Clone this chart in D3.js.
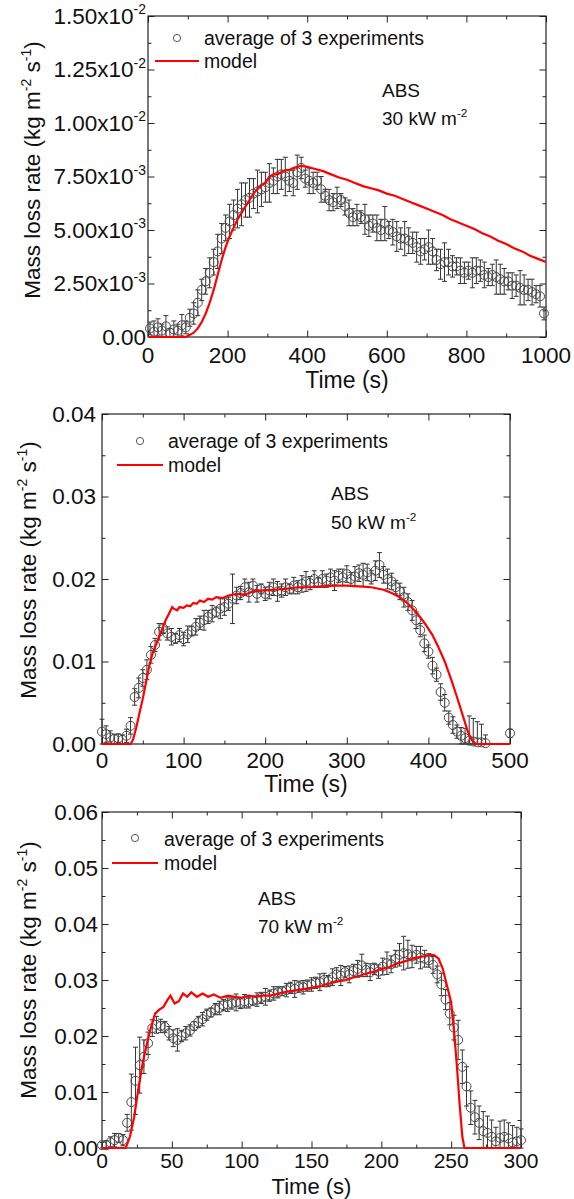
<!DOCTYPE html>
<html>
<head>
<meta charset="utf-8">
<script src="https://cdn.jsdelivr.net/npm/d3@7"></script>
<style>
  body { margin: 0; background: #fff; }
  svg { display: block; font-family: "Liberation Sans", Arial, sans-serif; }
</style>
</head>
<body>
<div id="chart"></div>
<script>
// ---------- ABS, 30 kW m-2 (rates in 1e-3 kg m-2 s-1) ----------
const expTime30 = [5,15,25,35,45,55,65,75,85,95,105,115,125,135,145,155,165,175,185,195,
  205,215,225,235,245,255,265,275,285,295,305,315,325,335,345,355,365,375,385,395,
  405,415,425,435,445,455,465,475,485,495,505,515,525,535,545,555,565,575,585,595,
  605,615,625,635,645,655,665,675,685,695,705,715,725,735,745,755,765,775,785,795,
  805,815,825,835,845,855,865,875,885,895,905,915,925,935,945,955,965,975,985,995];
const expRate30 = [0.4,0.25,0.45,0.3,0.5,0.2,0.35,0.3,0.55,0.45, 0.9,1.1,1.6,2.2,2.6,3.0,3.5,4.0,4.6,5.1,
  5.4,5.7,6.0,6.2,6.4,6.5,6.7,6.8,6.9,7.0, 7.2,7.3,7.5,7.6,7.5,7.3,7.2,7.7,7.9,7.4,
  7.3,7.2,7.3,6.9,6.6,6.4,6.3,6.5,6.4,6.1, 5.8,5.6,5.7,5.6,5.5,5.2,5.3,5.1,5.0,5.3,
  5.0,4.9,4.7,4.6,4.6,4.5,4.4,4.2,4.0,4.1, 4.2,4.0,3.6,3.4,3.5,3.5,3.3,3.3,3.1,3.0,
  3.1,3.0,3.1,3.1,2.9,2.8,2.9,2.8,2.7,2.6, 2.6,2.4,2.4,2.3,2.2,2.2,2.1,2.0,1.9,1.1];
const expErr30 = [0.3,0.5,0.4,0.3,0.5,0.2,0.4,0.3,0.5,0.3, 0.4,0.5,0.6,0.5,0.6,0.7,0.6,0.8,0.7,0.6,
  0.8,0.7,0.9,1.0,0.8,0.9,0.7,1.0,0.8,0.7, 0.9,0.6,0.8,0.7,0.9,0.5,0.6,0.8,0.5,0.4,
  0.6,0.5,0.4,0.6,0.3,0.5,0.4,0.5,0.3,0.4, 0.6,0.4,0.5,0.3,0.7,0.5,0.4,0.6,0.5,0.8,
  0.4,0.6,0.7,0.5,0.8,0.6,0.5,0.7,0.6,0.5, 0.8,0.6,0.5,0.7,0.9,0.6,0.5,0.4,0.6,0.5,
  0.4,0.7,0.6,0.5,0.6,0.4,0.5,0.8,0.7,0.6, 0.4,0.6,0.5,0.8,0.7,0.5,0.6,0.4,0.5,0.3];
const modelTime30 = [0,50,95,105,115,125,135,145,155,165,175,185,195,205,215,225,235,245,255,265,275,285,295,
  305,315,325,335,345,355,365,375,385,400,420,440,460,480,500,520,540,560,580,600,620,640,660,680,
  700,720,740,760,780,800,820,840,860,880,900,920,940,960,980,1000];
const modelRate30 = [0,0,0,0.1,0.2,0.4,0.7,1.1,1.6,2.2,2.9,3.6,4.2,4.7,5.1,5.5,5.8,6.1,6.4,6.7,6.9,7.1,7.2,
  7.5,7.6,7.6,7.7,7.8,7.8,7.9,7.95,8.0,7.95,7.85,7.75,7.6,7.45,7.35,7.2,7.05,6.95,6.85,6.7,6.6,6.45,6.3,6.15,
  6.0,5.85,5.7,5.5,5.35,5.2,5.05,4.85,4.7,4.5,4.35,4.15,4.0,3.8,3.65,3.5];
const xTicks30 = [0,200,400,600,800,1000];
const yTicks30 = [0,2.5,5,7.5,10,12.5,15];
const yLabels30 = [["0.00",""],["2.50x10","-3"],["5.00x10","-3"],["7.50x10","-3"],
  ["1.00x10","-2"],["1.25x10","-2"],["1.50x10","-2"]];

// ---------- ABS, 50 kW m-2 (rates in 1e-2 kg m-2 s-1) ----------
const expTime50 = [0,5,10,15,20,25,30,35,40,45,50,55,60,65,70,75,80,85,90,95,
  100,105,110,115,120,125,130,135,140,145,150,155,160,165,170,175,180,185,190,195,
  200,205,210,215,220,225,230,235,240,245,250,255,260,265,270,275,280,285,290,295,
  300,305,310,315,320,325,330,335,340,345,350,355,360,365,370,375,380,385,390,395,
  400,405,410,415,420,425,430,435,440,445,450,455,460,465,470,500];
const expRate50 = [0.15,0.12,0.08,0.06,0.07,0.05,0.1,0.22,0.57,0.68, 0.8,0.9,1.08,1.2,1.36,1.4,1.34,1.3,1.28,1.32,
  1.27,1.33,1.37,1.42,1.47,1.5,1.54,1.58,1.6,1.64, 1.66,1.7,1.76,1.8,1.83,1.9,1.84,1.92,1.82,1.88,
  1.82,1.86,1.9,1.85,1.86,1.9,1.88,1.92,1.9,1.94, 1.97,1.95,2.0,1.96,2.0,1.98,2.02,1.98,2.04,2.02,
  2.06,2.0,2.03,2.07,2.05,2.08,2.02,2.1,2.17,2.05, 2.0,1.97,1.9,1.85,1.78,1.72,1.62,1.5,1.38,1.22,
  1.12,0.95,0.84,0.63,0.5,0.32,0.23,0.15,0.1,0.07, 0.04,0.03,0.02,0.02,0.01,0.13];
const expErr50 = [0.15,0.1,0.08,0.06,0.05,0.06,0.08,0.1,0.1,0.12, 0.1,0.12,0.1,0.08,0.1,0.06,0.08,0.1,0.06,0.08,
  0.08,0.1,0.06,0.1,0.08,0.12,0.08,0.1,0.06,0.12, 0.1,0.08,0.3,0.1,0.08,0.1,0.12,0.08,0.1,0.06,
  0.08,0.1,0.1,0.12,0.08,0.1,0.06,0.1,0.08,0.1, 0.12,0.08,0.1,0.06,0.1,0.08,0.1,0.12,0.08,0.1,
  0.1,0.08,0.12,0.1,0.14,0.1,0.08,0.12,0.15,0.1, 0.12,0.1,0.08,0.1,0.12,0.1,0.12,0.1,0.08,0.1,
  0.08,0.1,0.08,0.1,0.1,0.08,0.1,0.08,0.1,0.12, 0.3,0.28,0.25,0.22,0.1,0.05];
const modelTime50 = [0,35,38,42,46,50,54,58,62,66,70,74,78,82,86,88,92,95,100,104,108,112,116,120,125,130,135,140,
  148,155,165,175,185,195,210,225,240,255,270,285,300,315,330,345,355,365,375,385,395,405,412,420,428,
  435,442,448,453,458,500];
const modelRate50 = [0,0,0.05,0.2,0.38,0.55,0.75,0.95,1.1,1.2,1.3,1.4,1.5,1.58,1.66,1.64,1.62,1.66,1.65,1.68,1.67,
  1.71,1.7,1.74,1.72,1.76,1.75,1.78,1.77,1.8,1.82,1.81,1.85,1.86,1.87,1.88,1.9,1.9,1.91,1.92,1.92,1.91,
  1.9,1.87,1.83,1.78,1.7,1.6,1.47,1.32,1.18,1.0,0.78,0.57,0.35,0.16,0.05,0,0];
const xTicks50 = [0,100,200,300,400,500];
const yTicks50 = [0,1,2,3,4];

// ---------- ABS, 70 kW m-2 (rates in 1e-2 kg m-2 s-1) ----------
const expTime70 = [0,3,6,9,12,15,18,21,24,27,30,33,36,39,42,45,48,51,54,57,
  60,63,66,69,72,75,78,81,84,87,90,93,96,99,102,105,108,111,114,117,
  120,123,126,129,132,135,138,141,144,147,150,153,156,159,162,165,168,171,174,177,
  180,183,186,189,192,195,198,201,204,207,210,213,216,219,222,225,228,231,234,237,
  240,243,246,249,252,255,258,261,264,267,270,273,276,279,282,285,288,291,294,297,300];
const expRate70 = [0.05,0.05,0.1,0.14,0.18,0.14,0.45,0.82,1.2,1.48, 1.63,1.87,2.14,2.2,2.18,2.16,2.05,1.96,1.93,2.0,
  2.05,2.1,2.18,2.25,2.3,2.38,2.42,2.48,2.5,2.55, 2.56,2.58,2.6,2.59,2.62,2.6,2.63,2.65,2.68,2.7,
  2.72,2.76,2.78,2.8,2.82,2.86,2.84,2.88,2.87,2.9, 2.92,2.95,2.96,3.0,2.98,3.05,3.1,3.08,3.14,3.1,
  3.16,3.2,3.26,3.18,3.14,3.2,3.15,3.24,3.3,3.28, 3.38,3.45,3.48,3.46,3.42,3.45,3.4,3.38,3.35,3.27,
  3.1,2.92,2.65,2.4,2.15,1.93,1.45,1.1,0.72,0.55, 0.45,0.3,0.27,0.2,0.12,0.18,0.2,0.17,0.1,0.12,0.14];
const expErr70 = [0.05,0.08,0.1,0.12,0.08,0.1,0.15,0.5,0.6,0.5, 0.3,0.2,0.15,0.15,0.12,0.1,0.12,0.15,0.2,0.1,
  0.12,0.1,0.08,0.1,0.12,0.1,0.08,0.1,0.12,0.1, 0.12,0.1,0.15,0.1,0.12,0.1,0.08,0.12,0.1,0.15,
  0.1,0.12,0.1,0.08,0.12,0.1,0.15,0.1,0.12,0.1, 0.12,0.1,0.15,0.12,0.1,0.15,0.12,0.18,0.1,0.15,
  0.12,0.15,0.2,0.12,0.15,0.1,0.12,0.15,0.2,0.15, 0.15,0.2,0.3,0.25,0.2,0.15,0.2,0.15,0.12,0.15,
  0.15,0.2,0.18,0.2,0.22,0.35,0.3,0.35,0.3,0.3, 0.3,0.35,0.3,0.3,0.25,0.3,0.3,0.28,0.3,0.25,0.2];
const modelTime70 = [0,17,20,23,26,29,32,35,38,41,44,47,49,52,55,58,61,64,68,72,76,80,85,90,
  95,100,105,110,115,120,125,130,135,140,145,150,155,160,165,170,175,180,185,190,195,200,205,210,215,220,225,
  230,235,238,241,244,246,248,250,252,254,256,258,259.5,300];
const modelRate70 = [0,0,0.2,0.55,1.05,1.5,1.85,2.15,2.4,2.47,2.52,2.65,2.72,2.58,2.62,2.76,2.7,2.78,2.7,2.76,
  2.7,2.74,2.68,2.72, 2.7,2.68,2.72,2.7,2.72,2.72,2.75,2.78,2.8,2.82,2.84,2.86,
  2.88,2.92,2.95,2.98,3.0,3.05,3.08,3.12,3.15,3.2,3.22,3.28,3.32,3.36,3.4, 3.42,3.45,3.44,3.38,3.2,3.0,2.8,
  2.6,2.1,1.5,0.8,0.2,0,0];
const xTicks70 = [0,50,100,150,200,250,300];
const yTicks70 = [0,1,2,3,4,5,6];

const width = 574;
const height = 1199;

const svg = d3.select("#chart")
  .append("svg")
  .attr("width", width)
  .attr("height", height);

const ink = "#222";

// text with superscript parts: parts = [[text, isSup], ...]
function richText(sel, parts, size) {
  let raised = false;
  parts.forEach(([t, sup]) => {
    const ts = sel.append("tspan").text(t);
    if (sup && !raised) { ts.attr("dy", -size * 0.42).style("font-size", (size * 0.62) + "px"); raised = true; }
    else if (sup) { ts.style("font-size", (size * 0.62) + "px"); }
    else if (raised) { ts.attr("dy", size * 0.42); raised = false; }
  });
  return sel;
}

function drawPanel(p) {
  const g = svg.append("g").attr("transform", `translate(${p.left},${p.top})`);
  const x = d3.scaleLinear().domain(p.xDomain).range([0, p.w]);
  const y = d3.scaleLinear().domain(p.yDomain).range([p.h, 0]);
  const tickFont = p.tickFont || 22.5;
  const titleFont = p.titleFont || 23;

  // inward ticks on all four sides
  const sides = [
    [d3.axisBottom(x), `translate(0,${p.h})`, p.xMajor, p.xMinor],
    [d3.axisTop(x), "translate(0,0)", p.xMajor, p.xMinor],
    [d3.axisLeft(y), "translate(0,0)", p.yMajor, p.yMinor],
    [d3.axisRight(y), `translate(${p.w},0)`, p.yMajor, p.yMinor]
  ];
  sides.forEach(([ax, tr, major, minor]) => {
    [[minor, -3.5], [major, -6.5]].forEach(([vals, size]) => {
      const a = g.append("g").attr("transform", tr)
        .call(ax.tickValues(vals).tickSize(size).tickFormat(""));
      a.select(".domain").remove();
      a.selectAll("line").attr("stroke", ink);
    });
  });

  g.append("rect")
    .attr("width", p.w).attr("height", p.h)
    .attr("fill", "none").attr("stroke", ink).attr("stroke-width", 1.2);

  // tick labels
  g.selectAll(".xl").data(p.xTicks).join("text")
    .attr("x", (d) => x(d)).attr("y", p.h + p.xLabelGap)
    .attr("text-anchor", "middle").attr("fill", "#111")
    .style("font-size", tickFont + "px")
    .text((d) => d);

  g.selectAll(".yl").data(p.yTicks).join("text")
    .attr("x", p.yLabelX).attr("y", (d) => y(d) + 7.5)
    .attr("text-anchor", "end").attr("fill", "#111")
    .style("font-size", "22.5px")
    .each(function (d, i) {
      const lab = p.yLabels(d, i);
      richText(d3.select(this), lab, 22.5);
    });

  // axis titles
  richText(svg.append("text")
    .attr("x", p.left + p.w / 2).attr("y", p.top + p.h + p.xTitleGap)
    .attr("text-anchor", "middle").attr("fill", "#111")
    .style("font-size", titleFont + "px"), [["Time (s)", false]], titleFont);

  richText(svg.append("text")
    .attr("transform", `translate(${p.titleX},${p.titleY}) rotate(-90)`)
    .attr("text-anchor", "middle").attr("fill", "#111")
    .style("font-size", "22.5px"),
    [["Mass loss rate (kg m", false], ["-2", true], [" s", false], ["-1", true], [")", false]], 22.5);

  // data
  const exp = p.expTime.map((t, i) => ({ t, v: p.expRate[i] * p.unit, e: p.expErr[i] * p.unit }));
  const model = p.modelTime.map((t, i) => ({ t, v: p.modelRate[i] * p.unit }));

  const bars = g.append("g").attr("stroke", "#333").attr("stroke-width", 1);
  exp.forEach((d) => {
    const cx = x(d.t), y0 = y(Math.max(d.v - d.e, p.yDomain[0])), y1 = y(d.v + d.e);
    bars.append("line").attr("x1", cx).attr("x2", cx).attr("y1", y0).attr("y2", y1);
    bars.append("line").attr("x1", cx - 2.5).attr("x2", cx + 2.5).attr("y1", y1).attr("y2", y1);
    bars.append("line").attr("x1", cx - 2.5).attr("x2", cx + 2.5).attr("y1", y0).attr("y2", y0);
  });

  g.append("g").selectAll("circle").data(exp).join("circle")
    .attr("cx", (d) => x(d.t)).attr("cy", (d) => y(d.v)).attr("r", 4.5)
    .attr("fill", "none").attr("stroke", "#4a4a4a").attr("stroke-width", 1);

  g.append("path").datum(model)
    .attr("fill", "none").attr("stroke", "#ff0000").attr("stroke-width", 2.2)
    .attr("d", d3.line().x((d) => x(d.t)).y((d) => y(d.v)));

  // legend
  const L = p.legend;
  g.append("circle").attr("cx", L.cx).attr("cy", L.cy).attr("r", 3.6)
    .attr("fill", "none").attr("stroke", "#555");
  g.append("text").attr("x", L.tx).attr("y", L.ty1).attr("fill", "#111")
    .style("font-size", "19.5px").text("average of 3 experiments");
  g.append("line").attr("x1", L.lx1).attr("x2", L.lx2).attr("y1", L.ly).attr("y2", L.ly)
    .attr("stroke", "#ff0000").attr("stroke-width", 2.2);
  g.append("text").attr("x", L.tx).attr("y", L.ty2).attr("fill", "#111")
    .style("font-size", "19.5px").text("model");

  g.append("text").attr("x", p.note.x).attr("y", p.note.y1).attr("fill", "#111")
    .style("font-size", "19px").text("ABS");
  richText(g.append("text").attr("x", p.note.x).attr("y", p.note.y2).attr("fill", "#111")
    .style("font-size", "19px"), [[p.note.flux + " kW m", false], ["-2", true]], 19);
}

const fmt2 = d3.format(".2f");

drawPanel({
  left: 148, top: 16, w: 398, h: 321,
  xDomain: [0, 1000], yDomain: [0, 0.015], unit: 1e-3,
  xMajor: xTicks30, xMinor: [100, 300, 500, 700, 900],
  yMajor: yTicks30.map((d) => d * 1e-3), yMinor: [1.25, 3.75, 6.25, 8.75, 11.25, 13.75].map((d) => d * 1e-3),
  xTicks: xTicks30, yTicks: yTicks30.map((d) => d * 1e-3),
  yLabels: (d, i) => [[yLabels30[i][0], false], [yLabels30[i][1], true]],
  yLabelX: -2, xLabelGap: 26, xTitleGap: 51,
  titleX: 40, titleY: 170,
  expTime: expTime30, expRate: expRate30, expErr: expErr30,
  modelTime: modelTime30, modelRate: modelRate30,
  legend: { cx: 29, cy: 22, tx: 56, ty1: 29, lx1: 7, lx2: 51, ly: 45, ty2: 52 },
  note: { x: 234, y1: 81, y2: 109, flux: "30" }
});

drawPanel({
  left: 102, top: 414, w: 408, h: 330,
  xDomain: [0, 500], yDomain: [0, 0.04], unit: 1e-2,
  xMajor: xTicks50, xMinor: [50, 150, 250, 350, 450],
  yMajor: yTicks50.map((d) => d * 1e-2), yMinor: [0.005, 0.015, 0.025, 0.035],
  xTicks: xTicks50, yTicks: yTicks50.map((d) => d * 1e-2),
  yLabels: (d) => [[fmt2(d), false]],
  yLabelX: -6, xLabelGap: 24, xTitleGap: 48,
  titleX: 36, titleY: 570,
  expTime: expTime50, expRate: expRate50, expErr: expErr50,
  modelTime: modelTime50, modelRate: modelRate50,
  legend: { cx: 38, cy: 27, tx: 66, ty1: 34, lx1: 15, lx2: 61, ly: 51, ty2: 58 },
  note: { x: 229, y1: 86, y2: 115, flux: "50" }
});

drawPanel({
  left: 102, top: 812, w: 419, h: 336,
  xDomain: [0, 300], yDomain: [0, 0.06], unit: 1e-2,
  xMajor: xTicks70, xMinor: [25, 75, 125, 175, 225, 275],
  yMajor: yTicks70.map((d) => d * 1e-2), yMinor: [0.005, 0.015, 0.025, 0.035, 0.045, 0.055],
  xTicks: xTicks70, yTicks: yTicks70.map((d) => d * 1e-2),
  yLabels: (d) => [[fmt2(d), false]],
  yLabelX: -4, xLabelGap: 20, xTitleGap: 46, tickFont: 21, titleFont: 22,
  titleX: 36, titleY: 970,
  expTime: expTime70, expRate: expRate70, expErr: expErr70,
  modelTime: modelTime70, modelRate: modelRate70,
  legend: { cx: 33, cy: 26, tx: 62, ty1: 34, lx1: 10, lx2: 56, ly: 51, ty2: 58 },
  note: { x: 156, y1: 93, y2: 121, flux: "70" }
});
</script>
</body>
</html>
